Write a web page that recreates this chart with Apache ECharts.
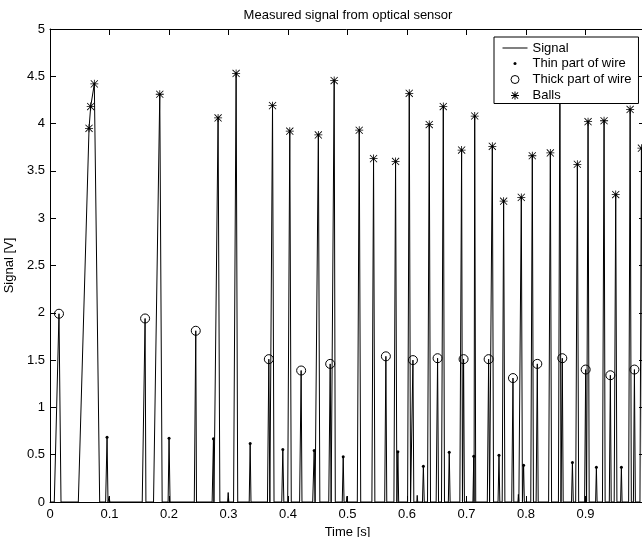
<!DOCTYPE html>
<html>
<head>
<meta charset="utf-8">
<script src="https://cdn.jsdelivr.net/npm/echarts@6/dist/echarts.min.js"></script>
<style>
html,body{margin:0;padding:0;background:#fff;}
#chart{width:642px;height:537px;}
</style>
</head>
<body>
<div id="chart"></div>
<script>
// ---- data ----
const titleText = 'Measured signal from optical sensor';
const xName = 'Time [s]';
const yName = 'Signal [V]';
const seriesNames = ['Signal', 'Thin part of wire', 'Thick part of wire', 'Balls'];

// signal polyline vertices [time s, volts]
const signalPoints = [
  [0,0],[0.0072,0],[0.0151,1.99],[0.0185,0],
  [0.0476,0],[0.0656,3.95],[0.0684,4.18],[0.0745,4.42],[0.0835,0],
  [0.0935,0],[0.0959,0.685],[0.0975,0],
  [0.0985,0],[0.0995,0.06],[0.1005,0],
  [0.155,0],[0.1598,1.94],[0.1612,0],
  [0.174,0],[0.1845,4.31],[0.1885,0],
  [0.1985,0],[0.2001,0.675],[0.2018,0],
  [0.2425,0],[0.245,1.81],[0.2462,0],
  [0.2725,0],[0.2747,0.668],[0.2755,0],
  [0.2765,0],[0.2825,4.06],[0.2855,0],
  [0.2985,0],[0.2995,0.1],[0.3005,0],
  [0.3085,0],[0.3128,4.53],[0.3155,0],
  [0.3348,0],[0.3364,0.618],[0.3378,0],
  [0.3655,0],[0.3678,1.51],[0.3695,0],
  [0.3705,0],[0.374,4.19],[0.3765,0],
  [0.3895,0],[0.3913,0.555],[0.393,0],
  [0.3995,0],[0.403,3.92],[0.4055,0],
  [0.4195,0],[0.4221,1.39],[0.4235,0],
  [0.4415,0],[0.444,0.545],[0.4455,0],
  [0.4475,0],[0.451,3.88],[0.4535,0],
  [0.4685,0],[0.4709,1.46],[0.4725,0],
  [0.4745,0],[0.4776,4.455],[0.4795,0],
  [0.4912,0],[0.4928,0.478],[0.4942,0],
  [0.4982,0],[0.499,0.06],[0.4998,0],
  [0.5165,0],[0.5197,3.93],[0.5222,0],
  [0.541,0],[0.5438,3.63],[0.546,0],
  [0.5625,0],[0.5645,1.54],[0.566,0],
  [0.578,0],[0.5808,3.6],[0.583,0],
  [0.5835,0],[0.5847,0.53],[0.586,0],
  [0.601,0],[0.6038,4.32],[0.606,0],
  [0.6075,0],[0.61,1.5],[0.6115,0],
  [0.6165,0],[0.6172,0.07],[0.618,0],
  [0.626,0],[0.6275,0.379],[0.629,0],
  [0.6345,0],[0.6374,3.99],[0.6395,0],
  [0.649,0],[0.6514,1.52],[0.653,0],
  [0.658,0],[0.661,4.18],[0.663,0],
  [0.6695,0],[0.671,0.527],[0.6725,0],
  [0.6888,0],[0.6918,3.72],[0.6932,0],
  [0.6938,0],[0.6951,1.51],[0.6965,0],
  [0.7108,0],[0.7122,0.484],[0.7127,0],
  [0.7138,4.08],[0.7155,0],
  [0.735,0],[0.7372,1.51],[0.7388,0],
  [0.7405,0],[0.7434,3.76],[0.7455,0],
  [0.753,0],[0.7546,0.495],[0.756,0],
  [0.76,0],[0.7624,3.18],[0.7645,0],
  [0.776,0],[0.7781,1.31],[0.7795,0],
  [0.7865,0],[0.7872,0.08],[0.788,0],
  [0.7895,0],[0.7921,3.22],[0.794,0],
  [0.7948,0],[0.796,0.389],[0.7972,0],
  [0.808,0],[0.8106,3.66],[0.8125,0],
  [0.817,0],[0.819,1.46],[0.8205,0],
  [0.838,0],[0.8409,3.69],[0.843,0],
  [0.8545,0],[0.857,4.62],[0.8588,0],
  [0.8595,0],[0.861,1.52],[0.8625,0],
  [0.8765,0],[0.878,0.418],[0.8795,0],
  [0.8835,0],[0.8863,3.57],[0.8885,0],
  [0.8985,0],[0.9003,1.4],[0.9018,0],
  [0.9025,0],[0.9043,4.02],[0.9062,0],
  [0.917,0],[0.9183,0.368],[0.9195,0],
  [0.9285,0],[0.9312,4.03],[0.933,0],
  [0.94,0],[0.9418,1.34],[0.9432,0],
  [0.9482,0],[0.9508,3.25],[0.9528,0],
  [0.959,0],[0.9603,0.368],[0.9615,0],
  [0.9725,0],[0.975,4.15],[0.977,0],
  [0.9805,0],[0.9822,1.4],[0.9838,0],
  [0.9915,0],[0.994,3.74],[0.996,0],
  [1,0]
];

// thin part of wire (dots)
const thinT = [0.0959,0.2001,0.2747,0.3364,0.3913,0.444,0.4928,0.5847,0.6275,0.671,0.7122,0.7546,0.796,0.878,0.9183,0.9603];
const thinV = [0.685,0.675,0.668,0.618,0.555,0.545,0.478,0.53,0.379,0.527,0.484,0.495,0.389,0.418,0.368,0.368];

// thick part of wire (circles)
const thickT = [0.0151,0.1598,0.245,0.3678,0.4221,0.4709,0.5645,0.61,0.6514,0.6951,0.7372,0.7781,0.819,0.861,0.9003,0.9418,0.9822];
const thickV = [1.99,1.94,1.81,1.51,1.39,1.46,1.54,1.5,1.52,1.51,1.51,1.31,1.46,1.52,1.4,1.34,1.4];

// balls (stars)
const ballT = [0.0656,0.0684,0.0745,0.1845,0.2825,0.3128,0.374,0.403,0.451,0.4776,0.5197,0.5438,0.5808,0.6038,0.6374,0.661,0.6918,0.7138,0.7434,0.7624,0.7921,0.8106,0.8409,0.857,0.8863,0.9043,0.9312,0.9508,0.975,0.994];
const ballV = [3.95,4.18,4.42,4.31,4.06,4.53,4.19,3.92,3.88,4.455,3.93,3.63,3.6,4.32,3.99,4.18,3.72,4.08,3.76,3.18,3.22,3.66,3.69,4.62,3.57,4.02,4.03,3.25,4.15,3.74];

const xMin = 0, xMax = 1, xStep = 0.1;
const yMin = 0, yMax = 5, yStep = 0.5;

// ---- styling / building ----
const FONT = '"Liberation Sans", Arial, Helvetica, sans-serif';
const zip = (a, b) => a.map((t, i) => [t, b[i]]);

const STAR = 'path://M4.5 0h1v10h-1z M0 4.5h10v1h-10z M0.9 0.2L9.8 9.1L9.1 9.8L0.2 0.9Z M9.1 0.2L9.8 0.9L0.9 9.8L0.2 9.1Z';
const LEG_STAR = 'path://M0 0M25 14M12 3h1v8h-1z M8.5 6.5h8v1h-8z M9.7 3.6L15.9 9.8L15.3 10.4L9.1 4.2Z M15.3 3.6L15.9 4.2L9.7 10.4L9.1 9.8Z';
const LEG_DOT = 'path://M0 0M25 14M11 7a1.5 1.5 0 1 0 3 0a1.5 1.5 0 1 0 -3 0Z';
const LEG_RING = 'path://M0 0M25 14M8.5 7a4 4 0 1 0 8 0a4 4 0 1 0 -8 0Z';
const LEG_LINE = 'path://M0 0M25 14M0 6.5h25v1h-25z';

const axisCommon = {
  type: 'value',
  splitLine: { show: false },
  axisLine: { show: true, onZero: false, lineStyle: { color: '#000', width: 1 } },
  axisTick: { show: true, inside: true, length: 6, lineStyle: { color: '#000', width: 1 } },
};

const chart = echarts.init(document.getElementById('chart'), null, { renderer: 'canvas' });
chart.setOption({
  animation: false,
  backgroundColor: '#fff',
  textStyle: { fontFamily: FONT },
  title: {
    text: titleText,
    left: 348,
    top: 9,
    padding: 0,
    textAlign: 'center',
    textStyle: { fontSize: 13, fontWeight: 'normal', color: '#000', fontFamily: FONT }
  },
  grid: { left: 50, top: 29, right: -3, bottom: 35, outerBoundsMode: 'none', containLabel: false },
  legend: {
    orient: 'vertical',
    left: 494,
    top: 37,
    padding: [4, 7, 1, 8],
    itemWidth: 25,
    itemHeight: 14,
    itemGap: 1.5,
    backgroundColor: '#fff',
    borderColor: '#000',
    borderWidth: 1,
    borderRadius: 0,
    textStyle: { fontSize: 13, color: '#000', fontFamily: FONT, padding: [0, 0, 0, 0] },
    data: [
      { name: seriesNames[0], icon: LEG_LINE, lineStyle: { width: 1 }, itemStyle: { color: '#000', borderWidth: 0 } },
      { name: seriesNames[1], icon: LEG_DOT, itemStyle: { borderWidth: 0 } },
      { name: seriesNames[2], icon: LEG_RING, itemStyle: { borderWidth: 1, color: 'rgba(0,0,0,0)', borderColor: '#000' } },
      { name: seriesNames[3], icon: LEG_STAR, itemStyle: { borderWidth: 0 } }
    ]
  },
  xAxis: [
    Object.assign({}, axisCommon, {
      position: 'bottom', min: xMin, max: xMax, interval: xStep,
      name: xName, nameLocation: 'middle', nameGap: 22,
      nameTextStyle: { fontSize: 13, color: '#000', fontFamily: FONT },
      axisLabel: { show: true, margin: 6, fontSize: 13, color: '#000', fontFamily: FONT, showMaxLabel: false }
    }),
    Object.assign({}, axisCommon, {
      position: 'top', min: xMin, max: xMax, interval: xStep,
      axisLabel: { show: false }
    })
  ],
  yAxis: [
    Object.assign({}, axisCommon, {
      position: 'left', min: yMin, max: yMax, interval: yStep,
      name: yName, nameLocation: 'middle', nameGap: 28, nameRotate: 90,
      nameTextStyle: { fontSize: 13, color: '#000', fontFamily: FONT },
      axisLabel: { show: true, margin: 5, fontSize: 13, color: '#000', fontFamily: FONT }
    }),
    Object.assign({}, axisCommon, {
      position: 'right', min: yMin, max: yMax, interval: yStep,
      axisLabel: { show: false }
    })
  ],
  series: [
    {
      name: seriesNames[0], type: 'line', data: signalPoints,
      symbol: 'none', showSymbol: false, clip: true,
      lineStyle: { color: '#000', width: 1 }, itemStyle: { color: '#000' },
      z: 2, silent: true
    },
    {
      name: seriesNames[1], type: 'scatter', data: zip(thinT, thinV),
      symbol: 'circle', symbolSize: 3,
      itemStyle: { color: '#000', opacity: 1 }, z: 3, silent: true
    },
    {
      name: seriesNames[2], type: 'scatter', data: zip(thickT, thickV),
      symbol: 'circle', symbolSize: 9,
      itemStyle: { color: 'rgba(0,0,0,0)', borderColor: '#000', borderWidth: 1, opacity: 1 }, z: 3, silent: true
    },
    {
      name: seriesNames[3], type: 'scatter', data: zip(ballT, ballV),
      symbol: STAR, symbolSize: 8,
      itemStyle: { color: '#000', opacity: 1 }, z: 3, silent: true
    }
  ]
});
</script>
</body>
</html>
